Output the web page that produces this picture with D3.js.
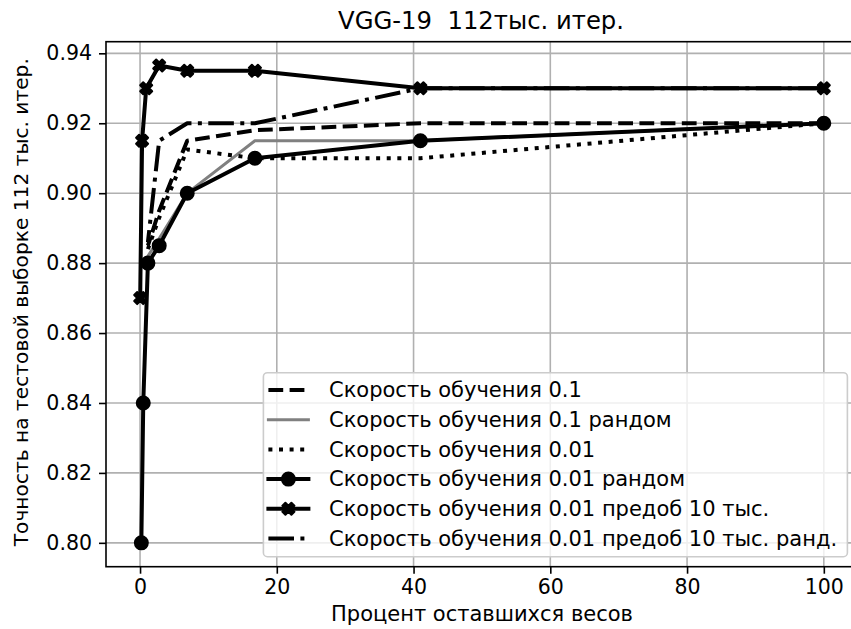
<!DOCTYPE html>
<html><head><meta charset="utf-8">
<script src="https://cdn.jsdelivr.net/npm/d3@7"></script>
<style>body{margin:0;background:#fff}svg{display:block;font-family:"DejaVu Sans",sans-serif}</style>
</head><body>
<svg id="c" width="851" height="629"></svg>
<script>
const titleText = "VGG-19  112тыс. итер.";
const xLabel = "Процент оставшихся весов";
const yLabel = "Точность на тестовой выборке 112 тыс. итер.";
const xTicks = [0, 20, 40, 60, 80, 100];
const yTicks = [0.80, 0.82, 0.84, 0.86, 0.88, 0.90, 0.92, 0.94];

const seriesNames = [
  "Скорость обучения 0.1",
  "Скорость обучения 0.1 рандом",
  "Скорость обучения 0.01",
  "Скорость обучения 0.01 рандом",
  "Скорость обучения 0.01 предоб 10 тыс.",
  "Скорость обучения 0.01 предоб 10 тыс. ранд."
];
const xShort = [100, 41, 16.8, 6.9, 2.8, 1.15];
const xLong = [100, 41, 16.8, 6.9, 2.8, 1.15, 0.47, 0.19];
const xPre = [100, 41, 16.8, 6.9, 2.8, 0.9, 0.3, 0.02];
const yLr01 = [0.92, 0.92, 0.918, 0.915, 0.895, 0.885];
const yLr01Rand = [0.92, 0.915, 0.915, 0.90, 0.887, 0.882];
const yLr001 = [0.92, 0.91, 0.91, 0.9125, 0.893, 0.884];
const yLr001Rand = [0.92, 0.915, 0.91, 0.90, 0.885, 0.88, 0.84, 0.80];
const yPre = [0.93, 0.93, 0.935, 0.935, 0.9365, 0.93, 0.915, 0.87];
const yPreRand = [0.93, 0.93, 0.92, 0.92, 0.915, 0.886];

const styles = [
  {color:"#000", w:4, dash:"14.8,6.4", marker:null},
  {color:"#808080", w:3, dash:null, marker:null},
  {color:"#000", w:4, dash:"4,6.6", marker:null},
  {color:"#000", w:4, dash:null, marker:"o"},
  {color:"#000", w:4, dash:null, marker:"X"},
  {color:"#000", w:4, dash:"25.6,6.4,4,6.4", marker:null}
];
const seriesX = [xShort, xShort, xShort, xLong, xPre, xShort];
const seriesY = [yLr01, yLr01Rand, yLr001, yLr001Rand, yPre, yPreRand];

const svg = d3.select("#c");
const L = 106, R = 858, T = 41.7, B = 566.7;
const allX = seriesX.flat(), allY = seriesY.flat();
const xmin = d3.min(allX), xmax = d3.max(allX), ymin = d3.min(allY), ymax = d3.max(allY);
const x = d3.scaleLinear().domain([xmin - 0.05*(xmax-xmin), xmax + 0.05*(xmax-xmin)]).range([L, R]);
const y = d3.scaleLinear().domain([ymin - 0.05*(ymax-ymin), ymax + 0.05*(ymax-ymin)]).range([B, T]);

const clipId = "pc";
svg.append("defs").append("clipPath").attr("id", clipId)
  .append("rect").attr("x", L).attr("y", T).attr("width", R-L).attr("height", B-T);

// grid
const grid = svg.append("g");
grid.selectAll(".gx").data(xTicks).enter().append("line")
  .attr("x1", d=>x(d)).attr("x2", d=>x(d)).attr("y1", T).attr("y2", B)
  .attr("stroke", "#b0b0b0").attr("stroke-width", 1.6);
grid.selectAll(".gy").data(yTicks).enter().append("line")
  .attr("x1", L).attr("x2", R).attr("y1", d=>y(d)).attr("y2", d=>y(d))
  .attr("stroke", "#b0b0b0").attr("stroke-width", 1.6);

function xPath(s) {
  const k = s/4;
  const pts = [[-1,-2],[0,-1],[1,-2],[2,-1],[1,0],[2,1],[1,2],[0,1],[-1,2],[-2,1],[-1,0],[-2,-1]];
  return "M" + pts.map(p=>(p[0]*k).toFixed(2)+","+(p[1]*k).toFixed(2)).join("L") + "Z";
}
function drawMarker(g, type, cx, cy, color) {
  if (type === "o") {
    g.append("circle").attr("cx", cx).attr("cy", cy).attr("r", 6.5)
      .attr("fill", color).attr("stroke", color).attr("stroke-width", 2);
  } else if (type === "X") {
    g.append("path").attr("d", xPath(12)).attr("transform", `translate(${cx},${cy})`)
      .attr("fill", color).attr("stroke", color).attr("stroke-width", 2).attr("stroke-linejoin","round");
  }
}

const plot = svg.append("g").attr("clip-path", `url(#${clipId})`);
const line = d3.line().x(d=>x(d[0])).y(d=>y(d[1]));
seriesY.forEach((ys, i) => {
  const st = styles[i];
  const pts = ys.map((v, j) => [seriesX[i][j], v]);
  const p = plot.append("path").attr("d", line(pts)).attr("fill", "none")
    .attr("stroke", st.color).attr("stroke-width", st.w)
    .attr("stroke-linejoin", "round").attr("stroke-linecap", st.dash ? "butt" : "square");
  if (st.dash) p.attr("stroke-dasharray", st.dash);
  if (st.marker) pts.forEach(q => drawMarker(plot, st.marker, x(q[0]), y(q[1]), st.color));
});

// spines
svg.append("rect").attr("x", L).attr("y", T).attr("width", R-L).attr("height", B-T)
  .attr("fill", "none").attr("stroke", "#000").attr("stroke-width", 1.6);

// axes
const xAxis = svg.append("g").attr("transform", `translate(0,${B})`)
  .call(d3.axisBottom(x).tickValues(xTicks).tickFormat(d3.format("d")).tickSize(7).tickPadding(6));
const yAxis = svg.append("g").attr("transform", `translate(${L},0)`)
  .call(d3.axisLeft(y).tickValues(yTicks).tickFormat(d3.format(".2f")).tickSize(7).tickPadding(7));
[xAxis, yAxis].forEach(a => {
  a.select(".domain").remove();
  a.selectAll("line").attr("stroke", "#000").attr("stroke-width", 1.6);
  a.selectAll("text").attr("font-size", 20.5).attr("font-family", "DejaVu Sans").attr("fill", "#000");
});

// labels
svg.append("text").attr("x", (L+R)/2 - 1).attr("y", 29).attr("text-anchor", "middle")
  .style("white-space", "pre").attr("xml:space", "preserve")
  .attr("font-size", 24.3).text(titleText);
svg.append("text").attr("x", 482).attr("y", 621).attr("text-anchor", "middle")
  .attr("font-size", 21).text(xLabel);
svg.append("text").attr("transform", `translate(28,${(T+B)/2 - 2}) rotate(-90)`).attr("text-anchor", "middle")
  .attr("font-size", 20.2).text(yLabel);

// legend
const lg = svg.append("g");
const lgX = 263.4, lgY = 372.7, lgW = 584, lgH = 184;
lg.append("rect").attr("x", lgX).attr("y", lgY).attr("width", lgW).attr("height", lgH)
  .attr("rx", 4).attr("fill", "#fff").attr("fill-opacity", 0.8)
  .attr("stroke", "#ccc").attr("stroke-width", 1.6);
seriesNames.forEach((nm, i) => {
  const st = styles[i];
  const cy = 390 + i*29.7;
  const ln = lg.append("line").attr("x1", 268.4).attr("x2", 308.4).attr("y1", cy).attr("y2", cy)
    .attr("stroke", st.color).attr("stroke-width", st.w).attr("stroke-linecap", st.dash ? "butt" : "square");
  if (st.dash) ln.attr("stroke-dasharray", st.dash);
  if (st.marker) drawMarker(lg, st.marker, 288.4, cy, st.color);
  lg.append("text").attr("x", 329).attr("y", cy).attr("dy", "0.35em")
    .attr("font-size", 21).text(nm);
});
</script>
</body></html>
